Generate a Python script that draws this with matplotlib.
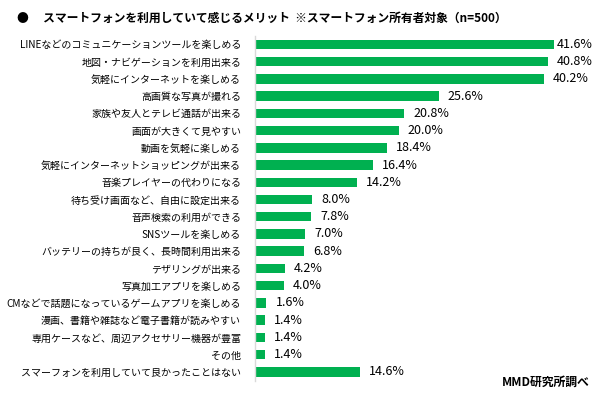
import matplotlib.pyplot as plt

plt.rcParams['font.family'] = ['Noto Sans CJK JP', 'DejaVu Sans']

# merits felt when using a smartphone (% of owners, n=500)
categories = [
    "LINEなどのコミュニケーションツールを楽しめる",
    "地図・ナビゲーションを利用出来る",
    "気軽にインターネットを楽しめる",
    "高画質な写真が撮れる",
    "家族や友人とテレビ通話が出来る",
    "画面が大きくて見やすい",
    "動画を気軽に楽しめる",
    "気軽にインターネットショッピングが出来る",
    "音楽プレイヤーの代わりになる",
    "待ち受け画面など、自由に設定出来る",
    "音声検索の利用ができる",
    "SNSツールを楽しめる",
    "バッテリーの持ちが良く、長時間利用出来る",
    "テザリングが出来る",
    "写真加工アプリを楽しめる",
    "CMなどで話題になっているゲームアプリを楽しめる",
    "漫画、書籍や雑誌など電子書籍が読みやすい",
    "専用ケースなど、周辺アクセサリー機器が豊富",
    "その他",
    "スマーフォンを利用していて良かったことはない",
]
values = [41.6, 40.8, 40.2, 25.6, 20.8, 20.0, 18.4, 16.4, 14.2, 8.0,
          7.8, 7.0, 6.8, 4.2, 4.0, 1.6, 1.4, 1.4, 1.4, 14.6]

title = "●　 スマートフォンを利用していて感じるメリット  ※スマートフォン所有者対象（n=500）"
source = "MMD研究所調べ"

fig = plt.figure(figsize=(5.99, 3.97), dpi=100)
ax = fig.add_axes([0.4257, 0.0415, 0.5394, 0.8685])

pos = list(range(len(categories)))
ax.barh(pos, values, height=0.55, color="#00B050")
ax.set_ylim(len(categories) - 0.5, -0.5)
ax.set_xlim(0, 45)

# value labels sit just outside the bar end, pulled in if they'd run off the right edge
for y, v in zip(pos, values):
    ax.text(min(v + 1.25, 42.0), y, f"{v:.1f}%", va="center", ha="left", fontsize=9)

ax.set_yticks(pos)
ax.set_yticklabels(categories, fontsize=7.2)
ax.tick_params(axis="y", length=0, pad=10)
ax.set_xticks([])
for side in ["top", "right", "bottom"]:
    ax.spines[side].set_visible(False)
ax.spines["left"].set_color("#D9D9D9")
ax.spines["left"].set_linewidth(1.0)

fig.text(0.028, 0.953, title, fontsize=8.5, fontweight="bold", va="center", ha="left")
fig.text(0.985, 0.037, source, fontsize=8.5, fontweight="bold", va="center", ha="right")

plt.savefig("out.png", dpi=100)
